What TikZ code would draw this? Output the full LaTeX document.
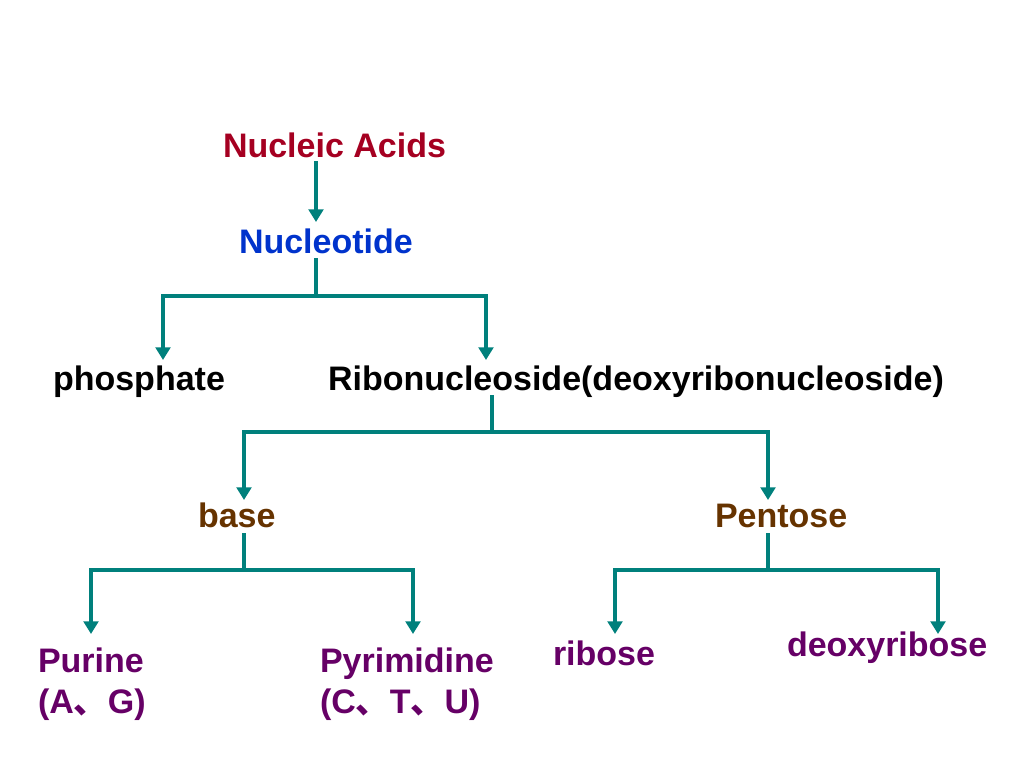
\documentclass[tikz,border=0pt]{standalone}
\usepackage{fontspec}
\setmainfont{Liberation Sans}
\newfontfamily\cjk{Noto Sans CJK SC}
\usetikzlibrary{arrows.meta}
\definecolor{teal1}{HTML}{00807C}
\definecolor{redA}{HTML}{A50021}
\definecolor{blueA}{HTML}{0033CC}
\definecolor{brownA}{HTML}{663300}
\definecolor{purpA}{HTML}{660066}
\begin{document}
\begin{tikzpicture}[x=0.75pt,y=-0.75pt,
  lbl/.style={inner sep=0pt,outer sep=0pt,anchor=base west,font=\fontsize{25.5}{30}\selectfont\bfseries},
  conn/.style={draw=teal1,line width=3pt},
  arr/.style={conn,-{Triangle[width=11pt,length=9.5pt]}}]
\useasboundingbox (0,0) rectangle (1024,768);
% nodes
\node[lbl,text=redA] (na) at (223,157) {Nucleic Acids};
\node[lbl,text=blueA] (nt) at (239,253) {Nucleotide};
\node[lbl,text=black] (ph) at (53,390) {phosphate};
\node[lbl,text=black] (rn) at (328,390) {Ribonucleoside(deoxyribonucleoside)};
\node[lbl,text=brownA] (ba) at (198,527) {base};
\node[lbl,text=brownA] (pe) at (715,527) {Pentose};
\node[lbl,text=purpA,align=left,anchor=north west] (pu) at (38,648) {Purine\\[1pt](A{\cjk 、}G)};
\node[lbl,text=purpA,align=left,anchor=north west] (py) at (320,648) {Pyrimidine\\[1pt](C{\cjk 、}T{\cjk 、}U)};
\node[lbl,text=purpA] (ri) at (553,665) {ribose};
\node[lbl,text=purpA] (de) at (787,656) {deoxyribose};
% connector coordinates
\coordinate (s0) at (316,161);
\coordinate (t0) at (316,222);
\coordinate (s1) at (316,258);
\coordinate (j1) at (316,296);
\coordinate (e1a) at (163,360);
\coordinate (e1b) at (486,360);
\coordinate (s2) at (492,395);
\coordinate (j2) at (492,432);
\coordinate (e2a) at (244,500);
\coordinate (e2b) at (768,500);
\coordinate (s3) at (244,533);
\coordinate (j3) at (244,570);
\coordinate (e3a) at (91,634);
\coordinate (e3b) at (413,634);
\coordinate (s4) at (768,533);
\coordinate (j4) at (768,570);
\coordinate (e4a) at (615,634);
\coordinate (e4b) at (938,634);
% connectors
\draw[arr] (s0) -- (t0);
\draw[conn] (s1) -- (j1);
\draw[arr] (j1) -| (e1a);
\draw[arr] (j1) -| (e1b);
\draw[conn] (s2) -- (j2);
\draw[arr] (j2) -| (e2a);
\draw[arr] (j2) -| (e2b);
\draw[conn] (s3) -- (j3);
\draw[arr] (j3) -| (e3a);
\draw[arr] (j3) -| (e3b);
\draw[conn] (s4) -- (j4);
\draw[arr] (j4) -| (e4a);
\draw[arr] (j4) -| (e4b);
\end{tikzpicture}
\end{document}
